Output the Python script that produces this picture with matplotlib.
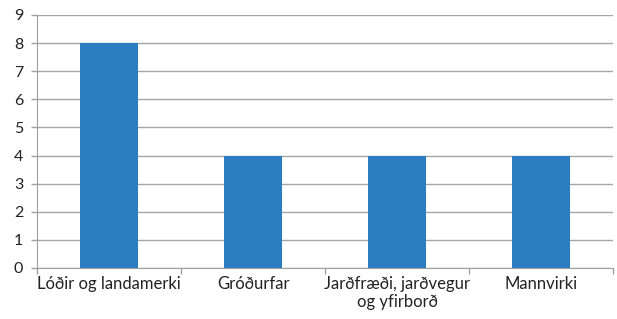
import matplotlib
matplotlib.use("Agg")
import matplotlib.pyplot as plt
import numpy as np

categories = ["Lóðir og landamerki", "Gróðurfar", "Jarðfræði, jarðvegur\nog yfirborð", "Mannvirki"]
values = [8, 4, 4, 4]
yticks = list(range(0, 10))

plt.rcParams['font.family'] = ['Lato', 'DejaVu Sans']

fig = plt.figure(figsize=(6.17, 3.19), dpi=100)
ax = fig.add_axes([0.060, 0.160, 0.9335, 0.793])

x = np.arange(len(categories))
ax.bar(x, values, width=0.4, color='#2a7dc1', zorder=3)

ax.set_xlim(-0.5, len(categories) - 0.5)
ax.set_ylim(0, 9)
ax.set_yticks(yticks)
ax.set_yticklabels([str(v) for v in yticks], fontsize=11.5, color='#222222')
ax.set_xticks(x)
ax.set_xticklabels(categories, fontsize=12, color='#222222', linespacing=1.15)
ax.set_xticks(np.arange(-0.5, len(categories), 1.0), minor=True)

ax.tick_params(axis='x', which='major', length=0, pad=6)
ax.tick_params(axis='x', which='minor', length=4, color='#a0a0a0', width=1, direction='out')
ax.tick_params(axis='y', length=4, color='#a0a0a0', width=1, direction='out', pad=6)

ax.grid(axis='y', color='#a6a6a6', linewidth=1, zorder=0)
for s in ['top', 'right']:
    ax.spines[s].set_visible(False)
ax.spines['left'].set_color('#a0a0a0')
ax.spines['bottom'].set_color('#a0a0a0')

fig.savefig('out.png', dpi=100, facecolor='white')
